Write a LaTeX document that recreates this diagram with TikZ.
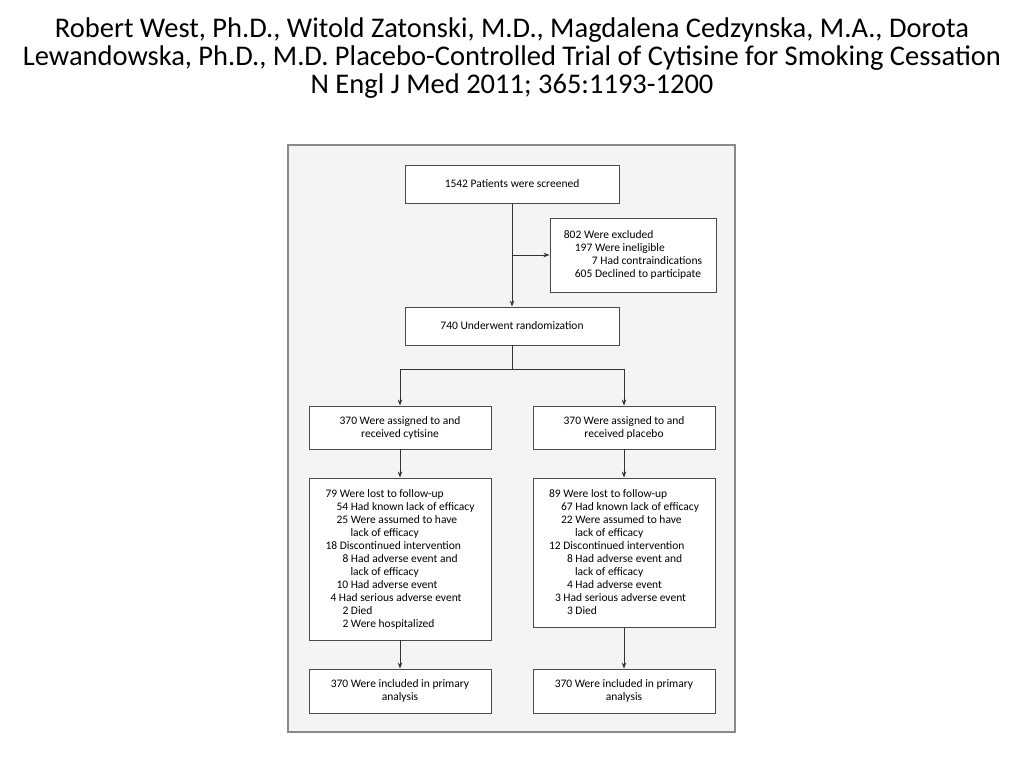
\documentclass[tikz,border=0pt]{standalone}
\usepackage{fontspec}
\setmainfont{Carlito}
\usetikzlibrary{arrows.meta}
\definecolor{boxc}{HTML}{4A4A4A}
\definecolor{linec}{HTML}{333333}
\definecolor{framec}{HTML}{8A8A8A}
\definecolor{framebg}{HTML}{F4F4F4}
\begin{document}
\begin{tikzpicture}[x=1pt,y=-1pt,
 box/.style={draw=boxc, fill=white, line width=0.9pt, inner sep=0pt, align=center, font=\fontsize{11.5}{13}\selectfont},
 listbox/.style={box, align=left},
 arr/.style={draw=linec, line width=0.9pt, -{Stealth[length=6pt,width=4.5pt]}},
 ln/.style={draw=linec, line width=0.9pt}]
\useasboundingbox[fill=white] (0,0) rectangle (1024,768);
\node[font=\fontsize{28.5}{28}\selectfont, align=center] (title) at (512,58)
 {Robert West, Ph.D., Witold Zatonski, M.D., Magdalena Cedzynska, M.A., Dorota\\
  Lewandowska, Ph.D., M.D. Placebo-Controlled Trial of Cytisine for Smoking Cessation\\
  N Engl J Med 2011; 365:1193-1200};
\draw[draw=framec, fill=framebg, line width=1.5pt] (288,145) rectangle (735,732);
\node[box, minimum width=214pt, minimum height=38pt] (screen) at (512,184) {1542 Patients were screened};
\node[listbox, minimum width=166pt, minimum height=74pt] (excl) at (633,255)
 {802 Were excluded\\
  \hspace*{11pt}197 Were ineligible\\
  \hspace*{28pt}7 Had contraindications\\
  \hspace*{11pt}605 Declined to participate};
\node[box, minimum width=214pt, minimum height=38pt] (rand) at (512,326) {740 Underwent randomization};
\node[box, minimum width=182pt, minimum height=43pt] (asgL) at (400,427.5) {370 Were assigned to and\\received cytisine};
\node[box, minimum width=182pt, minimum height=43pt] (asgR) at (624,427.5) {370 Were assigned to and\\received placebo};
\node[listbox, minimum width=182pt, minimum height=162pt] (lostL) at (400,559)
 {79 Were lost to follow-up\\
  \hspace*{11pt}54 Had known lack of efficacy\\
  \hspace*{11pt}25 Were assumed to have\\
  \hspace*{25pt}lack of efficacy\\
  18 Discontinued intervention\\
  \hspace*{17pt}8 Had adverse event and\\
  \hspace*{25pt}lack of efficacy\\
  \hspace*{11pt}10 Had adverse event\\
  \hspace*{5pt}4 Had serious adverse event\\
  \hspace*{17pt}2 Died\\
  \hspace*{17pt}2 Were hospitalized};
\node[listbox, minimum width=182pt, minimum height=149pt] (lostR) at (624,552.5)
 {89 Were lost to follow-up\\
  \hspace*{12pt}67 Had known lack of efficacy\\
  \hspace*{12pt}22 Were assumed to have\\
  \hspace*{26pt}lack of efficacy\\
  12 Discontinued intervention\\
  \hspace*{18pt}8 Had adverse event and\\
  \hspace*{26pt}lack of efficacy\\
  \hspace*{18pt}4 Had adverse event\\
  \hspace*{6pt}3 Had serious adverse event\\
  \hspace*{18pt}3 Died};
\node[box, minimum width=182pt, minimum height=44pt] (primL) at (400,691) {370 Were included in primary\\analysis};
\node[box, minimum width=182pt, minimum height=44pt] (primR) at (624,691) {370 Were included in primary\\analysis};
\draw[arr] (screen.south) -- (rand.north);
\draw[arr] (screen.south |- excl.west) -- (excl.west);
\coordinate (split) at (512,369);
\draw[ln] (rand.south) -- (split);
\draw[arr] (split) -| (asgL.north);
\draw[arr] (split) -| (asgR.north);
\draw[arr] (asgL.south) -- (lostL.north);
\draw[arr] (asgR.south) -- (lostR.north);
\draw[arr] (lostL.south) -- (primL.north);
\draw[arr] (lostR.south) -- (primR.north);
\end{tikzpicture}
\end{document}
